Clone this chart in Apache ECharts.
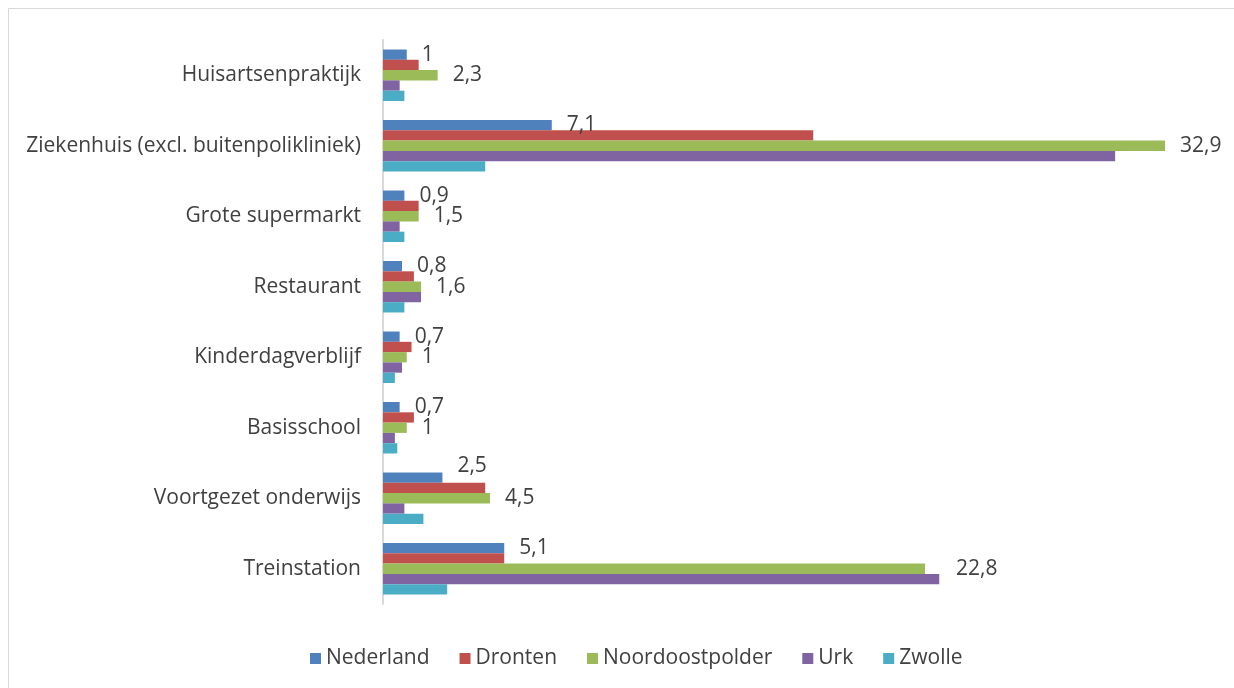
<!DOCTYPE html>
<html>
<head>
<meta charset="utf-8">
<style>
  html, body { margin: 0; padding: 0; background: #fff; }
  #main { width: 1234px; height: 688px; }
</style>
</head>
<body>
<div id="main"></div>
<script src="https://cdn.jsdelivr.net/npm/echarts@6/dist/echarts.min.js"></script>
<script>
    var categories = ['Huisartsenpraktijk', 'Ziekenhuis (excl. buitenpolikliniek)', 'Grote supermarkt',
        'Restaurant', 'Kinderdagverblijf', 'Basisschool', 'Voortgezet onderwijs', 'Treinstation'];
    var seriesNames = ['Nederland', 'Dronten', 'Noordoostpolder', 'Urk', 'Zwolle'];
    var nederland = [1.0, 7.1, 0.9, 0.8, 0.7, 0.7, 2.5, 5.1];
    var dronten = [1.5, 18.1, 1.5, 1.3, 1.2, 1.3, 4.3, 5.1];
    var noordoostpolder = [2.3, 32.9, 1.5, 1.6, 1.0, 1.0, 4.5, 22.8];
    var urk = [0.7, 30.8, 0.7, 1.6, 0.8, 0.5, 0.9, 23.4];
    var zwolle = [0.9, 4.3, 0.9, 0.9, 0.5, 0.6, 1.7, 2.7];
    var colors = ['#4f81bd', '#c0504d', '#9bbb59', '#8064a2', '#4bacc6'];
    var labelled = [true, false, true, false, false];

    var font = 'Open Sans';
    var textColor = '#404040';

    function fmt(p) {
        return String(p.value).replace('.', ',');
    }

    // a few labels are nudged, like the original placed them to avoid the neighbour bars
    var nudges = {
        'Nederland-6': [0, -12],
        'Noordoostpolder-7': [16, 0]
    };

    var myChart = echarts.init(document.getElementById('main'));
    var allData = [nederland, dronten, noordoostpolder, urk, zwolle];
    var series = [];
    for (var i = 0; i < seriesNames.length; i++) {
        var items = allData[i].map(function (v, j) {
            var key = seriesNames[i] + '-' + j;
            if (nudges[key]) {
                return { value: v, label: { offset: nudges[key] } };
            }
            return v;
        });
        series.push({
            name: seriesNames[i],
            type: 'bar',
            data: items,
            barGap: '0%',
            barCategoryGap: '27%',
            itemStyle: { color: colors[i] },
            label: {
                show: labelled[i],
                position: 'right',
                distance: 15,
                formatter: fmt,
                color: textColor,
                fontFamily: font,
                fontSize: 21
            }
        });
    }

    var option = {
        backgroundColor: '#fff',
        animation: false,
        color: colors,
        graphic: [{
            type: 'rect',
            shape: { x: 8.5, y: 8.5, width: 1240, height: 700 },
            style: { fill: 'none', stroke: '#d9d9d9', lineWidth: 1 },
            silent: true
        }],
        grid: { left: 383, right: 19, top: 40, bottom: 84 },
        xAxis: {
            type: 'value',
            min: 0,
            max: 35,
            show: false
        },
        yAxis: {
            type: 'category',
            data: categories,
            inverse: true,
            axisLine: { show: true, lineStyle: { color: '#d9d9d9', width: 2 } },
            axisTick: { show: false },
            axisLabel: { color: textColor, fontFamily: font, fontSize: 21, margin: 22 }
        },
        legend: {
            data: seriesNames,
            bottom: 14,
            left: 305,
            itemWidth: 11,
            itemHeight: 11,
            itemGap: 30,
            icon: 'rect',
            textStyle: { color: textColor, fontFamily: font, fontSize: 21 }
        },
        series: series
    };
    myChart.setOption(option);
</script>
</body>
</html>
